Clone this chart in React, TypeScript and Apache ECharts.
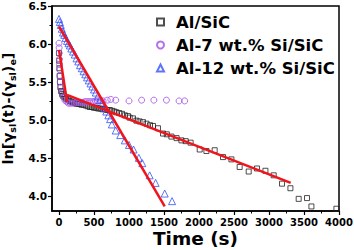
import React, { useEffect, useRef } from "react";
import * as echarts from "echarts";

const seriesNames = ["Al/SiC", "Al-7 wt.% Si/SiC", "Al-12 wt.% Si/SiC"];

const alSiC: [number, number][] = [
  [0, 5.88], [3, 5.78], [6, 5.68], [10, 5.58], [14, 5.5], [20, 5.43], [30, 5.38], [45, 5.34],
  [60, 5.32], [80, 5.3], [100, 5.28], [125, 5.27], [150, 5.25], [175, 5.24], [200, 5.23],
  [230, 5.22], [260, 5.21], [290, 5.21], [320, 5.2], [350, 5.2], [380, 5.19], [410, 5.18],
  [440, 5.17], [470, 5.17], [500, 5.16], [530, 5.16], [560, 5.15], [590, 5.15], [620, 5.14],
  [655, 5.14], [690, 5.13], [725, 5.13], [760, 5.12], [790, 5.11], [820, 5.1], [860, 5.09],
  [900, 5.08], [940, 5.06], [985, 5.05], [1010, 5.03], [1057, 5.02], [1106, 4.99], [1150, 4.98],
  [1200, 4.97], [1250, 4.95], [1300, 4.93], [1343, 4.92], [1414, 4.89], [1486, 4.82], [1540, 4.81],
  [1606, 4.78], [1680, 4.76], [1749, 4.73], [1810, 4.72], [1880, 4.7], [2010, 4.61], [2106, 4.59],
  [2224, 4.6], [2343, 4.51], [2463, 4.48], [2581, 4.38], [2710, 4.32], [2829, 4.36], [2949, 4.33],
  [3067, 4.27], [3186, 4.16], [3306, 4.1], [3424, 3.96], [3543, 3.97], [3606, 3.86], [3963, 3.83],
];

const al7: [number, number][] = [
  [0, 6.01], [2, 5.95], [4, 5.88], [6, 5.8], [8, 5.73], [10, 5.66], [13, 5.58], [18, 5.5],
  [25, 5.43], [40, 5.36], [60, 5.3], [85, 5.26], [110, 5.24], [135, 5.22], [160, 5.22],
  [190, 5.22], [220, 5.22], [250, 5.23], [280, 5.23], [310, 5.23], [340, 5.23], [370, 5.24],
  [400, 5.24], [430, 5.24], [460, 5.24], [490, 5.24], [520, 5.25], [550, 5.25], [590, 5.26],
  [630, 5.25], [690, 5.26], [740, 5.27], [810, 5.26], [1000, 5.25], [1180, 5.26], [1355, 5.26],
  [1535, 5.26], [1715, 5.25], [1795, 5.25],
];

const al12: [number, number][] = [
  [0, 6.33], [12, 6.29], [25, 6.25], [40, 6.2], [57, 6.15], [75, 6.12], [95, 6.08], [115, 6.04],
  [135, 6.01], [155, 5.98], [175, 5.94], [200, 5.9], [225, 5.86], [250, 5.81], [275, 5.77],
  [300, 5.72], [325, 5.68], [350, 5.64], [375, 5.6], [400, 5.56], [425, 5.52], [450, 5.48],
  [475, 5.44], [500, 5.4], [525, 5.36], [555, 5.31], [585, 5.26], [615, 5.21], [645, 5.16],
  [675, 5.11], [705, 5.06], [730, 5.01], [755, 4.94], [810, 4.86], [875, 4.8], [940, 4.73],
  [1000, 4.67], [1065, 4.61], [1140, 4.5], [1190, 4.43], [1295, 4.27], [1380, 4.17],
  [1510, 4.03], [1615, 3.93],
];

const fitA: [number, number][] = [[0, 6.23], [1510, 3.86]];
const fitB: [number, number][] = [[0, 5.92], [115, 5.24]];
const fitC: [number, number][] = [[115, 5.33], [3310, 4.17]];

const xMajor = [0, 500, 1000, 1500, 2000, 2500, 3000, 3500, 4000];
const xMinor = [250, 750, 1250, 1750, 2250, 2750, 3250, 3750];
const yMajor = [4.0, 4.5, 5.0, 5.5, 6.0, 6.5];
const yMinor = [4.25, 4.75, 5.25, 5.75, 6.25];

const FONT = "DejaVu Sans";

export default function App() {
  const ref = useRef<HTMLDivElement>(null);
  useEffect(() => {
    if (!ref.current) return;
    const chart = echarts.init(ref.current, null, { renderer: "svg" });
    const X_MIN = -100, X_MAX = 4000, Y_MIN = 3.8, Y_MAX = 6.5;
    const baseX = {
      type: "value" as const,
      min: X_MIN,
      max: X_MAX,
      position: "bottom" as const,
      splitLine: { show: false },
    };
    const baseY = {
      type: "value" as const,
      min: Y_MIN,
      max: Y_MAX,
      position: "left" as const,
      splitLine: { show: false },
    };
    const hollow = (c: string) => ({ color: "rgba(255,255,255,0)", borderColor: c, borderWidth: 1 });
    const red = "#f0141c";
    chart.setOption({
      animation: false,
      backgroundColor: "#fff",
      textStyle: { fontFamily: FONT },
      grid: {
        left: 52, right: 15, top: 6, bottom: 39,
        containLabel: false,
        outerBoundsMode: "none",
        show: true, borderColor: "#000", borderWidth: 1.5,
      },
      legend: {
        orient: "vertical",
        left: 151,
        top: 8,
        itemWidth: 7,
        itemHeight: 7,
        itemGap: 5,
        data: seriesNames,
        textStyle: { fontFamily: FONT, fontWeight: "bold", fontSize: 16.5, lineHeight: 18, color: "#000", padding: [0, 0, 0, 7] },
      },
      xAxis: [
        {
          ...baseX,
          name: "Time (s)",
          nameLocation: "middle",
          nameGap: 17,
          nameMoveOverlap: false,
          nameTextStyle: { fontFamily: FONT, fontWeight: "bold", fontSize: 18.5, lineHeight: 20, color: "#000" },
          axisLine: { onZero: false, lineStyle: { color: "#000", width: 1.5 } },
          axisTick: { inside: false, length: 4, customValues: xMajor, lineStyle: { color: "#000", width: 1.2 } },
          axisLabel: {
            customValues: xMajor, fontFamily: FONT, fontWeight: "bold", fontSize: 10, color: "#000", margin: 6,
            formatter: (v: number) => String(v),
          },
        },
        {
          ...baseX,
          axisLine: { show: false, onZero: false },
          axisTick: { inside: false, length: 2.5, customValues: xMinor, lineStyle: { color: "#000", width: 1 } },
          axisLabel: { show: false },
        },
      ],
      yAxis: [
        {
          ...baseY,
          name: "ln[γ{s|sl}(t)-(γ{s|sl}){s|e}]",
          nameLocation: "middle",
          nameRotate: 90,
          nameGap: 22,
          nameTextStyle: {
            fontFamily: FONT,
            fontWeight: "bold",
            fontSize: 14.5,
            color: "#000",
            lineHeight: 18,
            rich: {
              s: { fontFamily: FONT, fontWeight: "bold", fontSize: 9.5, lineHeight: 9.5, verticalAlign: "bottom", color: "#000" },
            },
          },
          axisLine: { onZero: false, lineStyle: { color: "#000", width: 1.5 } },
          axisTick: { inside: false, length: 4, customValues: yMajor, lineStyle: { color: "#000", width: 1.2 } },
          axisLabel: {
            customValues: yMajor,
            fontFamily: FONT,
            fontWeight: "bold",
            fontSize: 10.5,
            color: "#000",
            margin: 5,
            formatter: (v: number) => v.toFixed(1),
          },
        },
        {
          ...baseY,
          axisLine: { show: false, onZero: false },
          axisTick: { inside: false, length: 2.5, customValues: yMinor, lineStyle: { color: "#000", width: 1 } },
          axisLabel: { show: false },
        },
      ],
      series: [
        { name: seriesNames[0], type: "scatter", symbol: "rect", symbolSize: 5, data: alSiC, itemStyle: hollow("#222222"), z: 2 },
        { name: seriesNames[1], type: "scatter", symbol: "circle", symbolSize: 6, data: al7, itemStyle: hollow("#a24de6"), z: 2 },
        { name: seriesNames[2], type: "scatter", symbol: "triangle", symbolSize: 7, data: al12, itemStyle: hollow("#3552f5"), z: 2 },
        { type: "line", data: fitA, symbol: "none", lineStyle: { color: red, width: 2.5 }, z: 5 },
        { type: "line", data: fitB, symbol: "none", lineStyle: { color: red, width: 2.5 }, z: 5 },
        { type: "line", data: fitC, symbol: "none", lineStyle: { color: red, width: 2.5 }, z: 5 },
      ],
    });
    return () => chart.dispose();
  }, []);
  return <div ref={ref} style={{ width: 354, height: 250, position: "absolute", left: 0, top: 0 }} />;
}
